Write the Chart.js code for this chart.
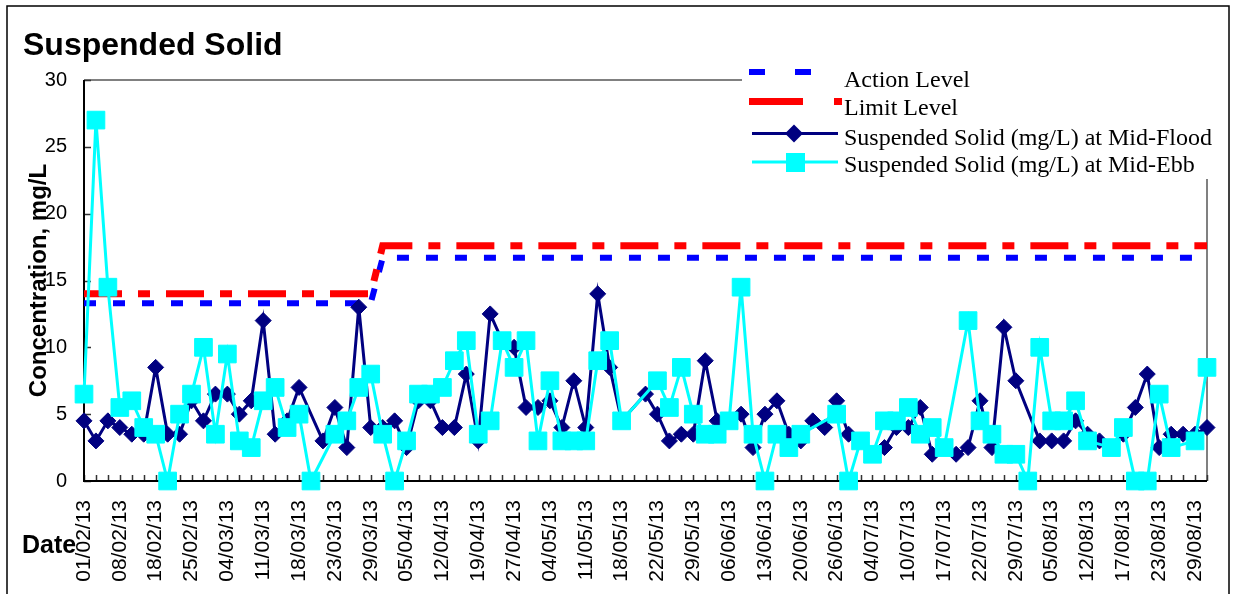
<!DOCTYPE html>
<html><head><meta charset="utf-8">
<script src="https://cdn.jsdelivr.net/npm/chart.js@4/dist/chart.umd.min.js"></script>
<style>html,body{margin:0;padding:0;background:#fff;overflow:hidden}#wrap{position:relative;width:1237px;height:594px}</style>
</head><body><div id="wrap"><canvas id="c" width="1237" height="594"></canvas></div>
<script>
const dates = [
'01/02/13','04/02/13','06/02/13','08/02/13','13/02/13','15/02/13','18/02/13','20/02/13','22/02/13','25/02/13',
'27/02/13','01/03/13','04/03/13','06/03/13','08/03/13','11/03/13','13/03/13','15/03/13','18/03/13','20/03/13',
'21/03/13','23/03/13','25/03/13','27/03/13','29/03/13','01/04/13','03/04/13','05/04/13','08/04/13','10/04/13',
'12/04/13','15/04/13','17/04/13','19/04/13','22/04/13','24/04/13','27/04/13','29/04/13','02/05/13','04/05/13',
'07/05/13','09/05/13','11/05/13','14/05/13','16/05/13','18/05/13','20/05/13','21/05/13','22/05/13','24/05/13',
'27/05/13','29/05/13','31/05/13','03/06/13','06/06/13','08/06/13','11/06/13','13/06/13','15/06/13','18/06/13',
'20/06/13','22/06/13','24/06/13','26/06/13','28/06/13','02/07/13','04/07/13','06/07/13','08/07/13','10/07/13',
'12/07/13','15/07/13','17/07/13','19/07/13','20/07/13','22/07/13','24/07/13','26/07/13','29/07/13','31/07/13',
'02/08/13','05/08/13','07/08/13','09/08/13','12/08/13','14/08/13','15/08/13','17/08/13','19/08/13','21/08/13',
'23/08/13','26/08/13','27/08/13','29/08/13','31/08/13'];

const midFlood = [
4.5,3.0,4.5,4.0,3.5,3.5,8.5,3.5,3.5,6.0,
4.5,6.5,6.5,5.0,6.0,12.0,3.5,4.5,7.0,null,
3.0,5.5,2.5,13.0,4.0,4.0,4.5,2.5,6.0,6.0,
4.0,4.0,8.0,3.0,12.5,10.5,10.0,5.5,5.5,6.0,
4.0,7.5,4.0,14.0,8.5,4.5,null,6.5,5.0,3.0,
3.5,3.5,9.0,4.5,4.5,5.0,2.5,5.0,6.0,3.5,
3.0,4.5,4.0,6.0,3.5,3.0,2.0,2.5,4.0,4.0,
5.5,2.0,2.5,2.0,2.5,6.0,2.5,11.5,7.5,null,
3.0,3.0,3.0,4.5,3.5,3.0,2.5,3.5,5.5,8.0,
2.5,3.5,3.5,3.5,4.0];

const midEbb = [
6.5,27.0,14.5,5.5,6.0,4.0,3.5,0,5.0,6.5,
10.0,3.5,9.5,3.0,2.5,6.0,7.0,4.0,5.0,0,
null,3.5,4.5,7.0,8.0,3.5,0,3.0,6.5,6.5,
7.0,9.0,10.5,3.5,4.5,10.5,8.5,10.5,3.0,7.5,
3.0,3.0,3.0,9.0,10.5,4.5,null,null,7.5,5.5,
8.5,5.0,3.5,3.5,4.5,14.5,3.5,0,3.5,2.5,
3.5,null,null,5.0,0,3.0,2.0,4.5,4.5,5.5,
3.5,4.0,2.5,null,12.0,4.5,3.5,2.0,2.0,0,
10.0,4.5,4.5,6.0,3.0,null,2.5,4.0,0,0,
6.5,2.5,null,3.0,8.5];

const actionLevel = [
13.3,13.3,13.3,13.3,13.3,13.3,13.3,13.3,13.3,13.3,
13.3,13.3,13.3,13.3,13.3,13.3,13.3,13.3,13.3,13.3,
13.3,13.3,13.3,13.3,13.3,16.7,16.7,16.7,16.7,16.7,
16.7,16.7,16.7,16.7,16.7,16.7,16.7,16.7,16.7,16.7,
16.7,16.7,16.7,16.7,16.7,16.7,16.7,16.7,16.7,16.7,
16.7,16.7,16.7,16.7,16.7,16.7,16.7,16.7,16.7,16.7,
16.7,16.7,16.7,16.7,16.7,16.7,16.7,16.7,16.7,16.7,
16.7,16.7,16.7,16.7,16.7,16.7,16.7,16.7,16.7,16.7,
16.7,16.7,16.7,16.7,16.7,16.7,16.7,16.7,16.7,16.7,
16.7,16.7,16.7,16.7,16.7];

const limitLevel = [
14.0,14.0,14.0,14.0,14.0,14.0,14.0,14.0,14.0,14.0,
14.0,14.0,14.0,14.0,14.0,14.0,14.0,14.0,14.0,14.0,
14.0,14.0,14.0,14.0,14.0,17.6,17.6,17.6,17.6,17.6,
17.6,17.6,17.6,17.6,17.6,17.6,17.6,17.6,17.6,17.6,
17.6,17.6,17.6,17.6,17.6,17.6,17.6,17.6,17.6,17.6,
17.6,17.6,17.6,17.6,17.6,17.6,17.6,17.6,17.6,17.6,
17.6,17.6,17.6,17.6,17.6,17.6,17.6,17.6,17.6,17.6,
17.6,17.6,17.6,17.6,17.6,17.6,17.6,17.6,17.6,17.6,
17.6,17.6,17.6,17.6,17.6,17.6,17.6,17.6,17.6,17.6,
17.6,17.6,17.6,17.6,17.6];

const yTicks = [0,5,10,15,20,25,30];
const seriesNames = ['Action Level','Limit Level','Suspended Solid (mg/L) at Mid-Flood','Suspended Solid (mg/L) at Mid-Ebb'];
const chartTitle = 'Suspended Solid';
const yTitle = 'Concentration, mg/L';
const xTitle = 'Date';

const SANS = "'Liberation Sans', Arial, sans-serif";
const SERIF = "'Liberation Serif', 'Times New Roman', serif";

const deco = {
  id: 'deco',
  beforeDatasetsDraw(chart) {
    const ctx = chart.ctx, a = chart.chartArea, xs = chart.scales.x, ys = chart.scales.y;
    ctx.save();
    ctx.strokeStyle = '#808080'; ctx.lineWidth = 2;
    ctx.beginPath();
    ctx.moveTo(a.left, a.top); ctx.lineTo(a.right, a.top); ctx.lineTo(a.right, a.bottom);
    ctx.stroke();
    ctx.strokeStyle = '#333'; ctx.lineWidth = 1.5;
    ctx.beginPath();
    for (let i = 0; i < dates.length; i++) {
      const px = Math.round(xs.getPixelForValue(i)) + 0.5;
      ctx.moveTo(px, a.bottom); ctx.lineTo(px, a.bottom - 6);
    }
    ctx.stroke();
    ctx.beginPath();
    yTicks.forEach(v => {
      const py = Math.round(ys.getPixelForValue(v)) + 0.5;
      ctx.moveTo(a.left, py); ctx.lineTo(a.left + 7, py);
    });
    ctx.stroke();
    ctx.strokeStyle = '#000'; ctx.lineWidth = 2;
    ctx.beginPath();
    ctx.moveTo(a.left, a.top); ctx.lineTo(a.left, a.bottom + 1);
    ctx.moveTo(a.left - 1, a.bottom); ctx.lineTo(a.right, a.bottom);
    ctx.stroke();
    ctx.restore();
  },
  afterDatasetsDraw(chart) {
    const ctx = chart.ctx;
    ctx.save();
    ctx.fillStyle = '#fff';
    ctx.fillRect(742, 60, 474, 119);
    ctx.fillStyle = '#0000FF';
    ctx.fillRect(749, 69, 16, 6); ctx.fillRect(795, 69, 16, 6);
    ctx.fillStyle = '#FF0000';
    ctx.fillRect(749, 98, 54, 7); ctx.fillRect(834, 98, 8, 7);
    ctx.strokeStyle = '#000080'; ctx.lineWidth = 3;
    ctx.beginPath(); ctx.moveTo(752, 133.5); ctx.lineTo(838, 133.5); ctx.stroke();
    ctx.fillStyle = '#000080';
    ctx.beginPath(); ctx.moveTo(794, 124.5); ctx.lineTo(803, 133.5); ctx.lineTo(794, 142.5); ctx.lineTo(785, 133.5); ctx.closePath(); ctx.fill();
    ctx.strokeStyle = '#00FFFF'; ctx.lineWidth = 3;
    ctx.beginPath(); ctx.moveTo(752, 162); ctx.lineTo(838, 162); ctx.stroke();
    ctx.fillStyle = '#00FFFF';
    ctx.fillRect(786, 153, 19, 19);
    ctx.fillStyle = '#000';
    ctx.font = '24px ' + SERIF;
    ctx.textBaseline = 'alphabetic'; ctx.textAlign = 'left';
    ctx.fillText(seriesNames[0], 844, 87);
    ctx.fillText(seriesNames[1], 844, 115);
    ctx.fillText(seriesNames[2], 844, 145);
    ctx.fillText(seriesNames[3], 844, 172);
    ctx.restore();
  },
  afterDraw(chart) {
    const ctx = chart.ctx;
    ctx.save();
    ctx.fillStyle = '#000';
    ctx.textAlign = 'left'; ctx.textBaseline = 'alphabetic';
    ctx.font = 'bold 32px ' + SANS;
    ctx.fillText(chartTitle, 23, 55);
    ctx.font = 'bold 25px ' + SANS;
    ctx.fillText(xTitle, 22, 553);
    ctx.strokeStyle = '#000'; ctx.lineWidth = 1.5;
    ctx.strokeRect(7, 6, 1222, 600);
    ctx.restore();
  }
};

Chart.defaults.color = '#000';
new Chart(document.getElementById('c'), {
  type: 'line',
  data: {
    labels: dates,
    datasets: [
      { label: seriesNames[0], data: actionLevel, borderColor: '#0000FF', borderWidth: 6, borderDash: [12, 17], borderCapStyle: 'butt',
        pointRadius: 0, pointHoverRadius: 0, fill: false, tension: 0, order: 3, clip: false },
      { label: seriesNames[1], data: limitLevel, borderColor: '#FF0000', borderWidth: 7, borderDash: [38, 16, 12, 16], borderCapStyle: 'butt',
        pointRadius: 0, pointHoverRadius: 0, fill: false, tension: 0, order: 2, clip: false },
      { label: seriesNames[2], data: midFlood, borderColor: '#000080', backgroundColor: '#000080', borderWidth: 3,
        pointStyle: 'rectRot', pointRadius: 8, pointBorderWidth: 1, pointBackgroundColor: '#000080', pointBorderColor: '#000080',
        spanGaps: true, fill: false, tension: 0, order: 1, clip: false },
      { label: seriesNames[3], data: midEbb, borderColor: '#00FFFF', backgroundColor: '#00FFFF', borderWidth: 3,
        pointStyle: 'rect', pointRadius: 12.5, pointBorderWidth: 1, pointBackgroundColor: '#00FFFF', pointBorderColor: '#00FFFF',
        spanGaps: true, fill: false, tension: 0, order: 0, clip: false }
    ]
  },
  options: {
    responsive: false,
    animation: false,
    events: [],
    layout: { padding: { left: 0, top: 80, right: 30, bottom: 0 } },
    plugins: { legend: { display: false }, title: { display: false }, tooltip: { enabled: false } },
    scales: {
      x: {
        type: 'category', offset: false,
        grid: { display: false, drawTicks: false }, border: { display: false },
        ticks: { autoSkip: false, maxRotation: 90, minRotation: 90, padding: 19, color: '#000',
          font: { family: SANS, size: 21 },
          callback: function (v, i) { return i % 3 === 0 ? this.getLabelForValue(v) : ''; } },
        afterFit: s => { s.height = 113; s.paddingLeft = 0; s.paddingRight = 0; }
      },
      y: {
        min: 0, max: 30,
        grid: { display: false, drawTicks: false }, border: { display: false },
        ticks: { stepSize: 5, padding: 17, color: '#000', font: { family: SANS, size: 20 } },
        title: { display: true, text: yTitle, color: '#000', font: { family: SANS, size: 24, weight: 'bold' }, padding: { top: 25, bottom: 0 } },
        afterFit: s => { s.width = 84; s.paddingTop = 0; s.paddingBottom = 0; }
      }
    }
  },
  plugins: [deco]
});
</script></body></html>
